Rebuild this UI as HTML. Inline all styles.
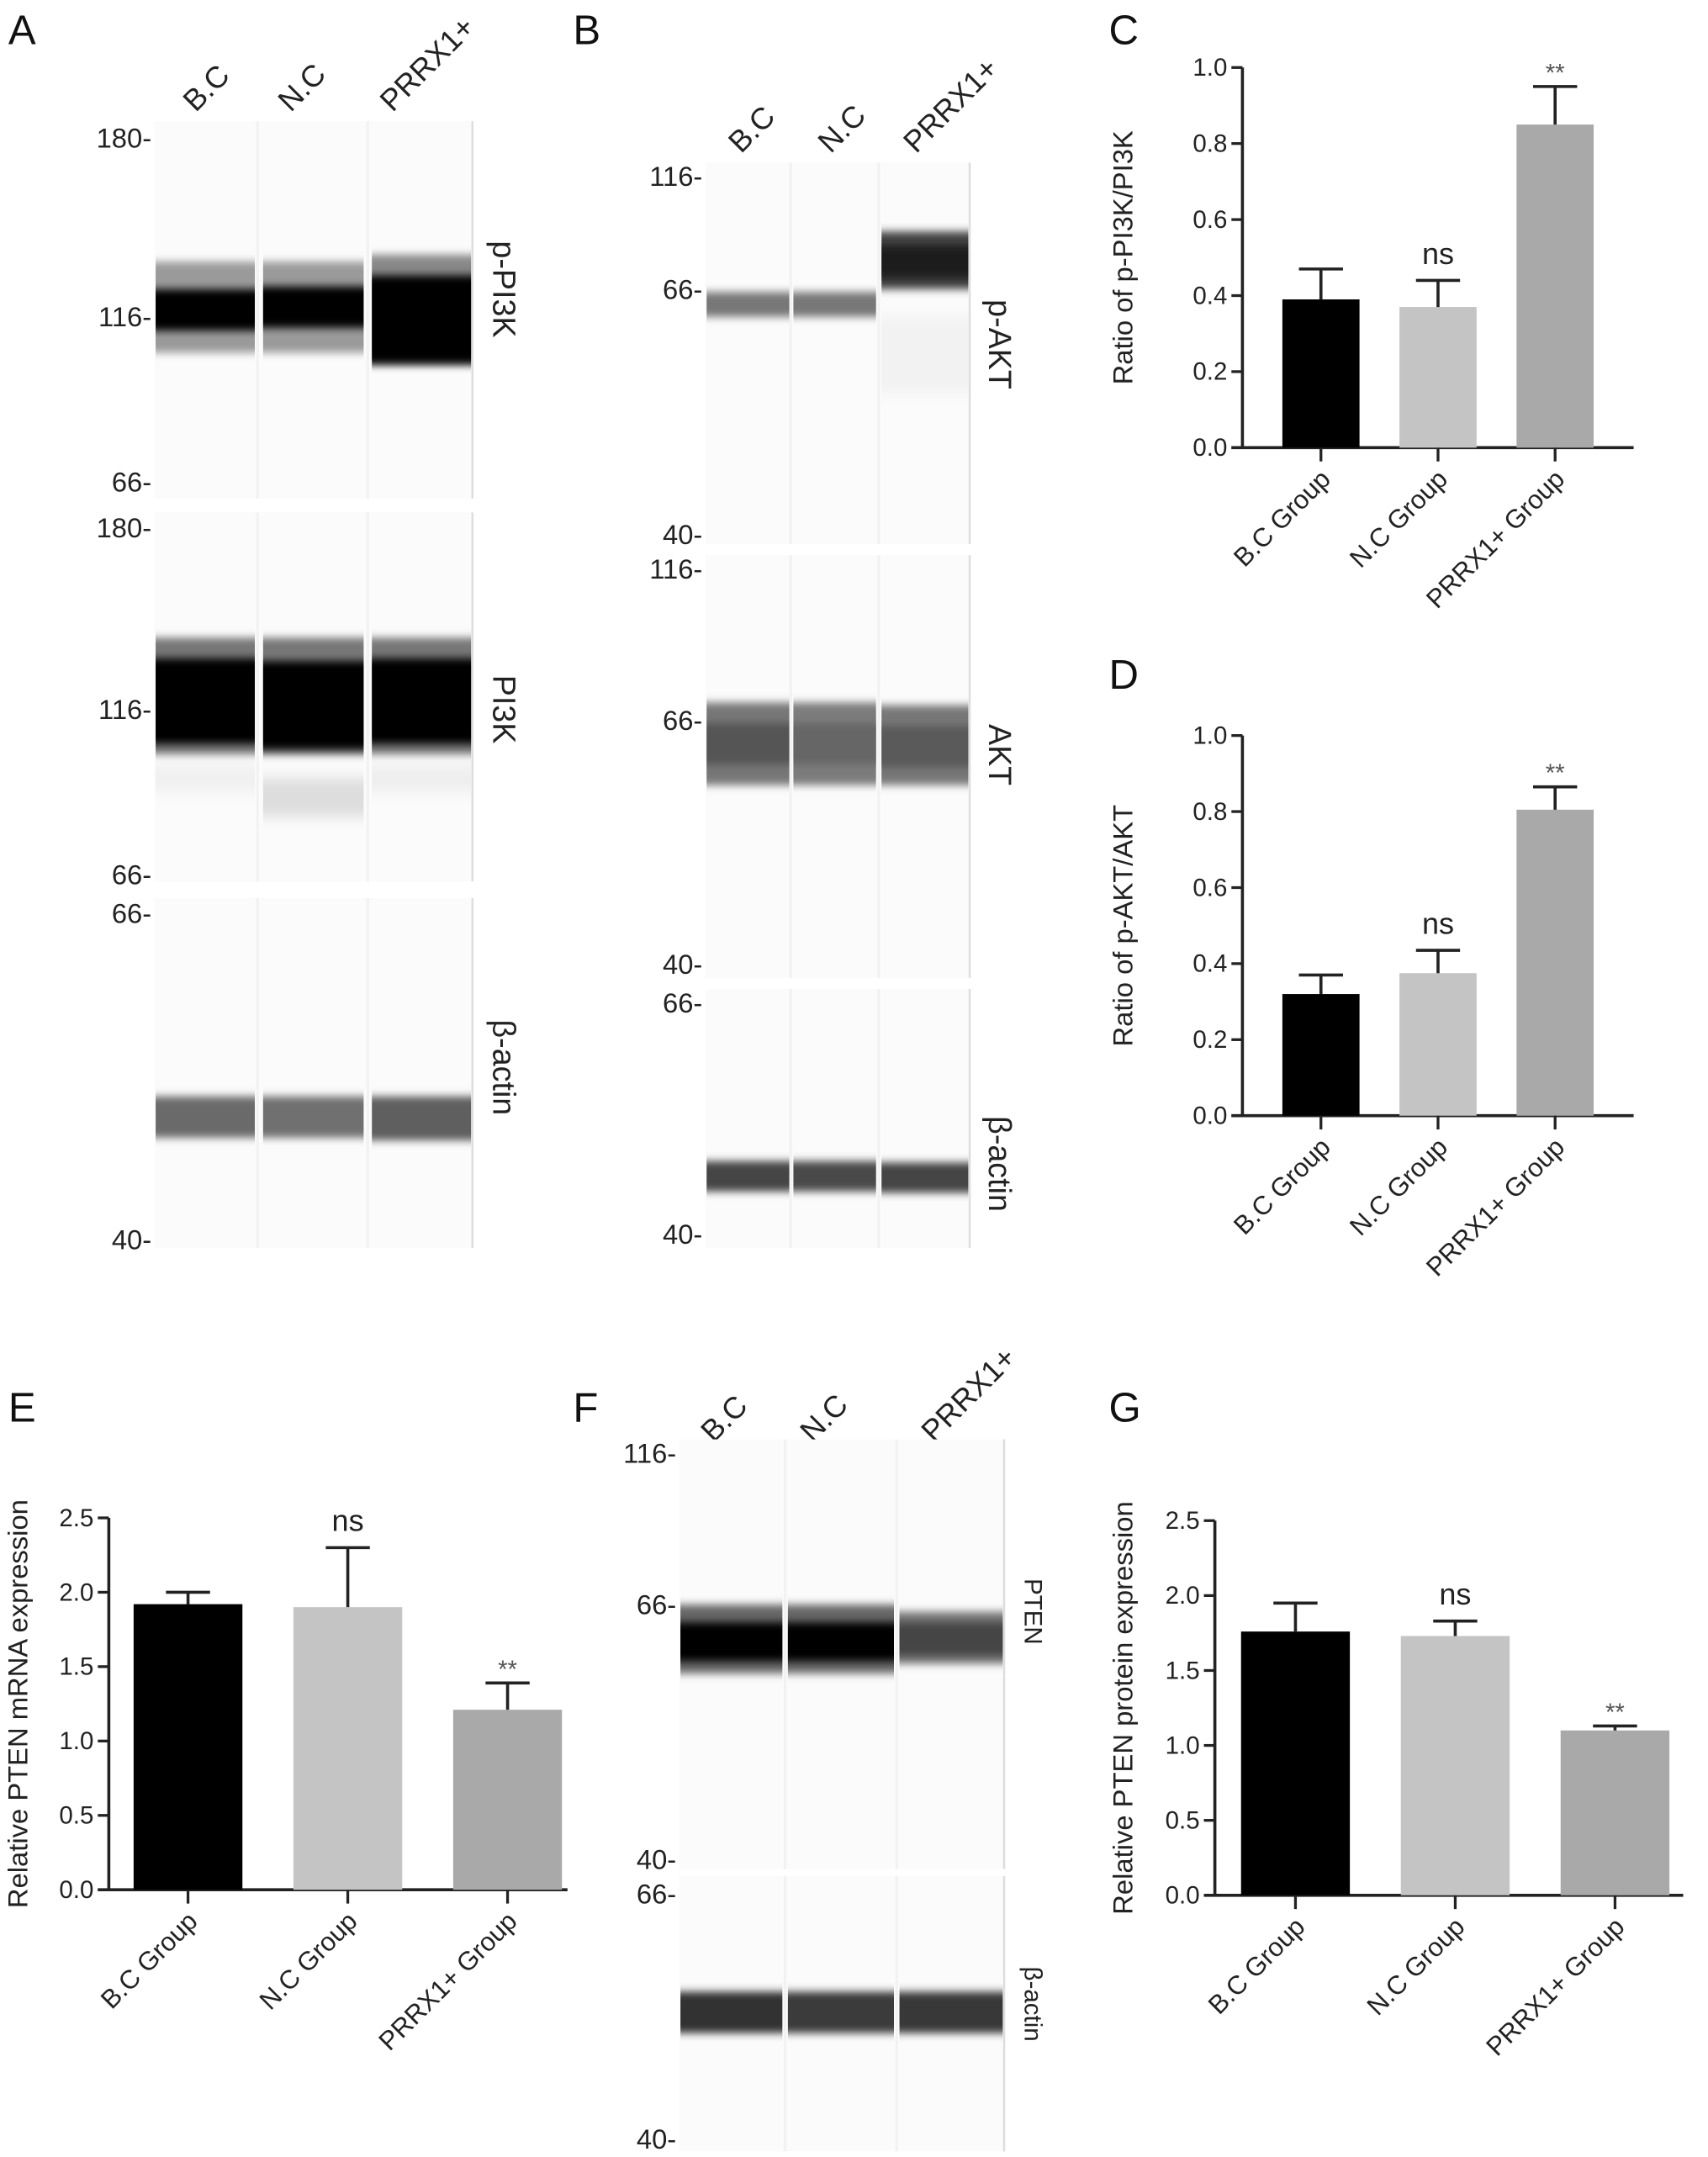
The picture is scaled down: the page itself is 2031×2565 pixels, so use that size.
<!DOCTYPE html>
<html><head><meta charset="utf-8"><style>
html,body{margin:0;padding:0;background:#fff;}
svg{display:block;font-family:"Liberation Sans",sans-serif;}
</style></head><body>
<svg id="fig" width="2031" height="2565" viewBox="0 0 1240 1566" xmlns="http://www.w3.org/2000/svg">
<defs>
<filter id="blur2" x="-10%" y="-50%" width="120%" height="200%"><feGaussianBlur stdDeviation="0 3"/></filter>
<filter id="blur4" x="-10%" y="-50%" width="120%" height="200%"><feGaussianBlur stdDeviation="0 5"/></filter>
</defs>
<g id="root"></g>
</svg>
<script>
// ---- chart data ----
const groups = ["B.C Group","N.C Group","PRRX1+ Group"];
const barColors = ["#000000","#c4c4c4","#a9a9a9"];
const cMeans = [0.39,0.37,0.85];
const cErrs = [0.08,0.07,0.10];
const cTicks = [0.0,0.2,0.4,0.6,0.8,1.0];
const cSig = ["","ns","**"];
const dMeans = [0.32,0.375,0.805];
const dErrs = [0.05,0.06,0.06];
const dTicks = [0.0,0.2,0.4,0.6,0.8,1.0];
const dSig = ["","ns","**"];
const eMeans = [1.92,1.90,1.21];
const eErrs = [0.08,0.40,0.18];
const eTicks = [0.0,0.5,1.0,1.5,2.0,2.5];
const eSig = ["","ns","**"];
const gMeans = [1.76,1.73,1.10];
const gErrs = [0.19,0.10,0.03];
const gTicks = [0.0,0.5,1.0,1.5,2.0,2.5];
const gSig = ["","ns","**"];

const NS="http://www.w3.org/2000/svg";
const root=document.getElementById('root');
function mk(tag,attrs,parent,text){const e=document.createElementNS(NS,tag);for(const k in attrs)e.setAttribute(k,attrs[k]);if(text!==undefined)e.textContent=text;(parent||root).appendChild(e);return e;}

function panelLetter(t,x,y){
  const e=mk('text',{x:x,y:y,'font-size':30,fill:'#111'},root,t);
  
  
}

function barChart(id,o,means,errs,ticks,sig,ylabel){
  const g=mk('g',{});
  
  
  const ymax=ticks[ticks.length-1];
  const Y=v=>o.y0-(v/ymax)*(o.y0-o.y1);
  const X=i=>o.bx0+i*o.step;
  mk('line',{x1:o.ax,y1:o.y1,x2:o.ax,y2:o.y0,stroke:'#222','stroke-width':2.2},g);
  mk('line',{x1:o.ax-8,y1:o.y0,x2:o.xend,y2:o.y0,stroke:'#222','stroke-width':2.2},g);
  ticks.forEach(t=>{
    mk('line',{x1:o.ax-8,y1:Y(t),x2:o.ax,y2:Y(t),stroke:'#222','stroke-width':2},g);
    const tl=mk('text',{x:o.ax-11,y:Y(t)+6,'font-size':18,'text-anchor':'end',fill:'#222'},g,t.toFixed(1));
    
    
  });
  means.forEach((m,i)=>{
    const x=X(i), cx=x+o.bw/2;
    const r=mk('rect',{x:x,y:Y(m),width:o.bw,height:o.y0-Y(m),fill:barColors[i]},g);
    
    
    const top=Y(m+errs[i]);
    const eb=mk('path',{d:`M${cx},${Y(m)}V${top}M${cx-16},${top}H${cx+16}`,stroke:'#222','stroke-width':2.2,fill:'none'},g);
    
    
    mk('line',{x1:cx,y1:o.y0,x2:cx,y2:o.y0+10,stroke:'#222','stroke-width':2},g);
    if(sig[i]){
      const s=mk('text',{x:cx,y:top-(sig[i]==='ns'?12:4),'font-size':sig[i]==='ns'?22:18,'text-anchor':'middle',fill:sig[i]==='ns'?'#222':'#555'},g,sig[i]);
      
      
    }
    const cl=mk('text',{x:cx+8,y:o.y0+24,'font-size':19,'text-anchor':'end',fill:'#222',transform:`rotate(-45 ${cx+8} ${o.y0+24})`},g,groups[i]);
    
    
  });
  const yl=mk('text',{x:o.ylx,y:(o.y0+o.y1)/2,'font-size':20,'text-anchor':'middle',fill:'#222',transform:`rotate(-90 ${o.ylx} ${(o.y0+o.y1)/2})`},g,ylabel);
  
  
}

function blot(id,x,y,w,h,lanes,bands,marks,label,labelX,labelY,labelSize){
  const g=mk('g',{});
  
  
  mk('rect',{x:x,y:y,width:w,height:h,fill:'#fbfbfb'},g);
  mk('line',{x1:x+w,y1:y,x2:x+w,y2:y+h,stroke:'#ddd','stroke-width':1.5},g);
  lanes.forEach(l=>mk('line',{x1:l,y1:y,x2:l,y2:y+h,stroke:'#f2f2f2','stroke-width':2},g));
  bands.forEach(b=>{
    const r=mk('rect',{x:b[0],y:b[1],width:b[2],height:b[3],fill:b[4],filter:b[5]||'url(#blur2)'},g);
    
    
  });
  marks.forEach(m=>{
    const t=mk('text',{x:x-2,y:m[1]+7,'font-size':20,'text-anchor':'end',fill:'#222'},g,m[0]+'-');
    
    
  });
  const lt=mk('text',{x:labelX,y:labelY,'font-size':labelSize||23,'text-anchor':'middle',fill:'#222',transform:`rotate(90 ${labelX} ${labelY})`},g,label);
  
  
}
function laneLabels(xs,y){
  ["B.C","N.C","PRRX1+"].forEach((t,i)=>{
    const e=mk('text',{x:xs[i],y:y,'font-size':22,fill:'#222',transform:`rotate(-45 ${xs[i]} ${y})`},root,t);
    
    
  });
}

panelLetter('A',6,32);panelLetter('B',416,32);panelLetter('C',805,32);
panelLetter('D',805,500);panelLetter('E',6,1032);panelLetter('F',416,1032);panelLetter('G',805,1032);

// Panel A
laneLabels([142,211,285],82);
blot('blot-p-pi3k',112,88,231,274,[187,267],[
 [113,190,72,66,'#9a9a9a'],[191,190,73,66,'#9a9a9a'],[270,185,72,80,'#888'],
 [113,210,72,30,'#000'],[191,208,73,30,'#000'],[270,200,72,64,'#000']
],[['180',100],['116',230],['66',350]],'p-PI3K',358,210);
blot('blot-pi3k',112,372,231,268,[187,267],[
 [113,463,72,85,'#777'],[191,463,73,85,'#777'],[270,463,72,85,'#777'],
 [113,478,72,62,'#000'],[191,480,73,64,'#000'],[270,478,72,62,'#000'],
 [191,565,73,28,'#ddd','url(#blur4)'],[270,555,72,20,'#eee','url(#blur4)'],[113,555,72,20,'#f0f0f0','url(#blur4)']
],[['180',383],['116',515],['66',635]],'PI3K',358,515);
blot('blot-a-beta-actin',112,652,231,254,[187,267],[
 [113,796,72,30,'#6a6a6a'],[191,796,73,30,'#6f6f6f'],[270,796,72,32,'#5f5f5f']
],[['66',663],['40',900]],'β-actin',358,775);

// Panel B
laneLabels([538,603,665],112);
blot('blot-p-akt',512,118,192,277,[574,638],[
 [513,212,60,18,'#777'],[576,212,60,18,'#777'],[640,168,63,42,'#444'],[640,178,63,24,'#1a1a1a'],
 [640,230,63,55,'#f2f2f2','url(#blur4)']
],[['116',128],['66',210],['40',388]],'p-AKT',718,250);
blot('blot-akt',512,403,192,307,[574,638],[
 [513,510,60,60,'#777'],[576,510,60,60,'#7c7c7c'],[640,512,63,58,'#777'],
 [513,525,60,30,'#555'],[576,525,60,30,'#666'],[640,527,63,30,'#5a5a5a']
],[['116',413],['66',523],['40',700]],'AKT',718,548);
blot('blot-b-beta-actin',512,718,192,188,[574,638],[
 [513,843,60,22,'#444'],[576,843,60,22,'#4a4a4a'],[640,844,63,22,'#444']
],[['66',728],['40',896]],'β-actin',718,845);

// Panel F
laneLabels([518,590,678],1048);
blot('blot-pten',493,1045,236,312,[570,651],[
 [494,1165,74,50,'#666'],[572,1165,77,50,'#666'],[653,1170,75,38,'#777'],
 [494,1178,74,28,'#000'],[572,1178,77,28,'#000'],[653,1178,75,24,'#444']
],[['116',1055],['66',1165],['40',1350]],'PTEN',744,1170,18);
blot('blot-f-beta-actin',493,1362,236,200,[570,651],[
 [494,1446,74,30,'#333'],[572,1446,77,30,'#3a3a3a'],[653,1446,75,30,'#383838']
],[['66',1375],['40',1553]],'β-actin',744,1455,18);

// Bar charts
barChart('chart-c',{ax:902,y0:325,y1:49,xend:1186,bx0:931,step:85,bw:56,ylx:822},cMeans,cErrs,cTicks,cSig,'Ratio of p-PI3K/PI3K');
barChart('chart-d',{ax:902,y0:810,y1:534,xend:1186,bx0:931,step:85,bw:56,ylx:822},dMeans,dErrs,dTicks,dSig,'Ratio of p-AKT/AKT');
barChart('chart-e',{ax:79,y0:1372,y1:1102,xend:412,bx0:97,step:116,bw:79,ylx:20},eMeans,eErrs,eTicks,eSig,'Relative PTEN mRNA expression');
barChart('chart-g',{ax:882,y0:1376,y1:1104,xend:1222,bx0:901,step:116,bw:79,ylx:822},gMeans,gErrs,gTicks,gSig,'Relative PTEN protein expression');
</script>
</body></html>
